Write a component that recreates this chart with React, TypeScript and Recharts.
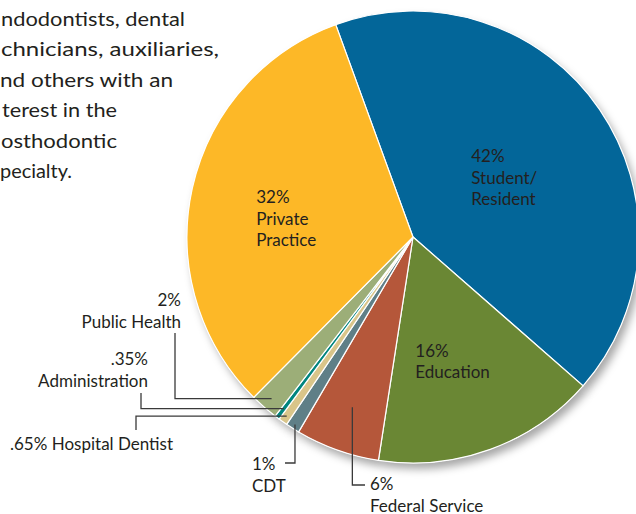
import React from 'react';
import { PieChart, Pie, Cell } from 'recharts';

// Membership by category, clockwise from the top
const categories = [
  'Student/Resident',
  'Education',
  'Federal Service',
  'CDT',
  'Hospital Dentist',
  'Administration',
  'Public Health',
  'Private Practice',
];
const shares = [42, 16, 6, 1, 0.65, 0.35, 2, 32];
const shareLabels = ['42%', '16%', '6%', '1%', '.65%', '.35%', '2%', '32%'];
const nameLines = [
  ['Student/', 'Resident'],
  ['Education'],
  ['Federal Service'],
  ['CDT'],
  ['Hospital Dentist'],
  ['Administration'],
  ['Public Health'],
  ['Private', 'Practice'],
];
const sliceColors = ['#036699', '#6a8734', '#b5573a', '#5f7f87', '#d9c58a', '#00857f', '#9cae78', '#fdb827'];

// the intro paragraph, cut off at the left edge as in the source page
const introLines = [
  'ndodontists, dental',
  'chnicians, auxiliaries,',
  'nd others with an',
  'terest in the',
  'osthodontic',
  'pecialty.',
];
// visible line widths (px) so the substitute font spans the same room
const introWidths = [184, 218, 173, 115, 116, 72];
const introStarts = [1, 1, 0, 2, 1, 0];

const data = categories.map((name, i) => ({ name, value: shares[i] }));

const FONT = 'Lato, "Open Sans", sans-serif';
const INK = '#231f20';
const LINE_H = 21.5;

// label layout: inside labels sit on the slice's mid angle, outside ones get an elbow leader
type LabelLayout =
  | { kind: 'inside'; r: number; dx: number; dy: number }
  | { kind: 'hv'; r: number; kneeX: number; endY: number; tx: number; ty: number; anchor: 'start' | 'end'; inline?: boolean }
  | { kind: 'vh'; r: number; kneeY: number; endX: number; tx: number; ty: number; anchor: 'start' | 'end' };

const layout: LabelLayout[] = [
  { kind: 'inside', r: 0.5, dx: -35, dy: -11 },
  { kind: 'inside', r: 0.56, dx: -41, dy: 1 },
  { kind: 'vh', r: 0.8, kneeY: 485, endX: 365, tx: 370, ty: 490, anchor: 'start' },
  { kind: 'vh', r: 0.98, kneeY: 463, endX: 285, tx: 252, ty: 470, anchor: 'start' },
  { kind: 'hv', r: 0.97, kneeX: 136, endY: 430, tx: 10, ty: 450, anchor: 'start', inline: true },
  { kind: 'hv', r: 0.95, kneeX: 141, endY: 393, tx: 148, ty: 365, anchor: 'end' },
  { kind: 'hv', r: 0.95, kneeX: 175, endY: 333, tx: 181, ty: 306, anchor: 'end' },
  { kind: 'inside', r: 0.57, dx: -31, dy: -6 },
];

const RAD = Math.PI / 180;

const renderLabel = (props: any) => {
  const { cx, cy, midAngle, outerRadius, index } = props;
  const cfg = layout[index];
  const lines = nameLines[index];
  const pct = shareLabels[index];
  const textProps = { fontFamily: FONT, fontSize: 17, fill: INK };

  if (cfg.kind === 'inside') {
    const x = cx + cfg.r * outerRadius * Math.cos(-midAngle * RAD) + cfg.dx;
    const y = cy + cfg.r * outerRadius * Math.sin(-midAngle * RAD) + cfg.dy;
    return (
      <g key={`lbl-${index}`}>
        <text x={x} y={y} {...textProps}>
          {pct}
        </text>
        {lines.map((l, j) => (
          <text key={j} x={x} y={y + LINE_H * (j + 1)} {...textProps}>
            {l}
          </text>
        ))}
      </g>
    );
  }

  const sx = cx + cfg.r * outerRadius * Math.cos(-midAngle * RAD);
  const sy = cy + cfg.r * outerRadius * Math.sin(-midAngle * RAD);
  const path =
    cfg.kind === 'hv'
      ? `M${sx},${sy}H${cfg.kneeX}V${cfg.endY}`
      : `M${sx},${sy}V${cfg.kneeY}H${cfg.endX}`;

  return (
    <g key={`lbl-${index}`}>
      <path d={path} fill="none" stroke="#3a3a3a" strokeWidth={1.3} />
      {cfg.kind === 'hv' && cfg.inline ? (
        <text x={cfg.tx} y={cfg.ty} textAnchor={cfg.anchor} {...textProps}>
          {`${pct} ${lines[0]}`}
        </text>
      ) : (
        <>
          <text x={cfg.tx} y={cfg.ty} textAnchor={cfg.anchor} {...textProps}>
            {pct}
          </text>
          {lines.map((l, j) => (
            <text key={j} x={cfg.tx} y={cfg.ty + LINE_H * (j + 1)} textAnchor={cfg.anchor} {...textProps}>
              {l}
            </text>
          ))}
        </>
      )}
    </g>
  );
};

export default function App() {
  return (
    <div style={{ position: 'fixed', left: 0, top: 0, width: 636, height: 514, background: '#fff', overflow: 'hidden' }}>
      <svg width={240} height={200} style={{ position: 'absolute', left: 0, top: 0 }}>
        {introLines.map((l, i) => (
          <text
            key={i}
            x={introStarts[i]}
            y={26 + i * 30.4}
            fontFamily={FONT}
            fontSize={19.5}
            fill={INK}
            textLength={introWidths[i]}
            lengthAdjust="spacingAndGlyphs"
          >
            {l}
          </text>
        ))}
      </svg>
      <PieChart
        width={636}
        height={514}
        margin={{ top: 0, right: 0, bottom: 0, left: 0 }}
        style={{ position: 'absolute', left: 0, top: 0 }}
      >
        <defs>
          <filter id="pieShadow" x="-20%" y="-20%" width="140%" height="140%">
            <feDropShadow dx={4} dy={6} stdDeviation={4} floodColor="#000" floodOpacity={0.35} />
          </filter>
        </defs>
        <Pie
          data={data}
          dataKey="value"
          nameKey="name"
          cx={413}
          cy={237}
          outerRadius={226}
          startAngle={110}
          endAngle={-250}
          stroke="none"
          isAnimationActive={false}
          labelLine={false}
        >
          {data.map((d, i) => (
            <Cell key={`sh-${i}`} fill="#fff" filter="url(#pieShadow)" />
          ))}
        </Pie>
        <Pie
          data={data}
          dataKey="value"
          nameKey="name"
          cx={413}
          cy={237}
          outerRadius={226}
          startAngle={110}
          endAngle={-250}
          stroke="#fff"
          strokeWidth={1.2}
          isAnimationActive={false}
          labelLine={false}
          label={renderLabel}
        >
          {data.map((d, i) => (
            <Cell key={`c-${i}`} fill={sliceColors[i]} />
          ))}
        </Pie>
      </PieChart>
    </div>
  );
}
